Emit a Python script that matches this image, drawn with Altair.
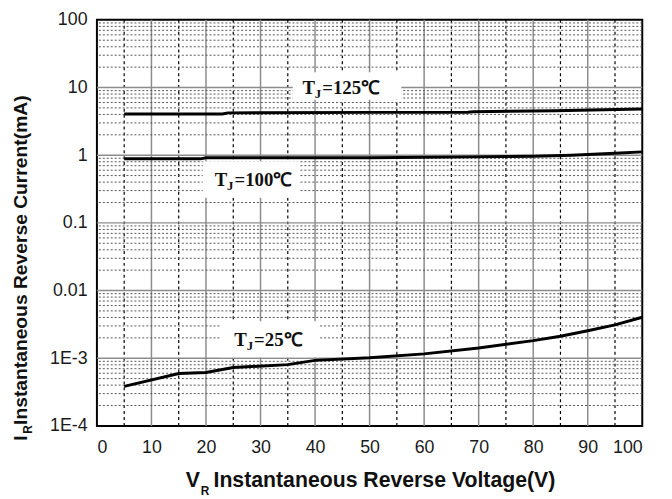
import json
import altair as alt
import pandas as pd

# ---- data ----
voltage_125 = [5, 23, 24, 51, 68, 69, 84, 93, 100]
current_125 = [4.06, 4.06, 4.22, 4.29, 4.30, 4.39, 4.54, 4.70, 4.80]

voltage_100 = [5, 19, 20, 50, 69, 80, 87, 96, 100]
current_100 = [0.883, 0.883, 0.914, 0.92, 0.944, 0.966, 1.0, 1.08, 1.12]

voltage_25 = [5, 15, 20, 25, 35, 40, 50, 60, 70, 80, 85, 90, 95, 100]
current_25 = [3.84e-4, 5.94e-4, 6.14e-4, 7.27e-4, 8.04e-4, 9.29e-4, 1.016e-3,
              1.16e-3, 1.42e-3, 1.82e-3, 2.11e-3, 2.55e-3, 3.11e-3, 4.03e-3]

x_ticks = [0, 10, 20, 30, 40, 50, 60, 70, 80, 90, 100]
x_major_grid = [10, 20, 30, 40, 50, 60, 70, 80, 90]
x_minor_grid = [5, 15, 25, 35, 45, 55, 65, 75, 85, 95]

y_ticks = [1e-4, 1e-3, 1e-2, 1e-1, 1, 10, 100]
y_tick_labels = ["1E-4", "1E-3", "0.01", "0.1", "1", "10", "100"]
y_major_grid = [1e-3, 1e-2, 1e-1, 1, 10]
y_minor_grid = [m * d for d in [1e-4, 1e-3, 1e-2, 1e-1, 1, 10] for m in range(2, 10)]

label_x = [37.7, 21.6, 25.2]
label_y = [8.03, 0.352, 1.52e-3]
label_text = ["=125℃", "=100℃", "=25℃"]

box_x1 = [35.9, 19.4, 22.6]
box_x2 = [55.8, 37.1, 40.8]
box_y1 = [6.6, 0.235, 1.03e-3]
box_y2 = [16.8, 0.817, 3.52e-3]

x_title = "Instantaneous Reverse Voltage(V)"
y_title = "Instantaneous Reverse Current(mA)"

# ---- tables ----
curves = pd.concat([
    pd.DataFrame({"v": voltage_125, "i": current_125, "s": "125"}),
    pd.DataFrame({"v": voltage_100, "i": current_100, "s": "100"}),
    pd.DataFrame({"v": voltage_25, "i": current_25, "s": "25"}),
])
labels = pd.DataFrame({"x": label_x, "y": label_y, "t": label_text})
boxes = pd.DataFrame({"x1": box_x1, "x2": box_x2, "y1": box_y1, "y2": box_y2})

W, H = 552, 411
xscale = alt.Scale(domain=[0, 100], nice=False, zero=False)
yscale = alt.Scale(type="log", domain=[1e-4, 100], nice=False)

label_expr = json.dumps(y_tick_labels) + "[round(log(datum.value)/LN10) + 4]"

x_axis = alt.Axis(values=x_ticks, title=None, grid=False, ticks=False, domain=False,
                  labelFont="Liberation Sans", labelFontSize=18, labelColor="#1a1a1a",
                  labelPadding=13)
y_axis = alt.Axis(values=y_ticks, title=None, grid=False, ticks=False, domain=False,
                  labelFont="Liberation Sans", labelFontSize=18, labelColor="#1a1a1a",
                  labelPadding=10, labelExpr=label_expr)

vmaj = alt.Chart(pd.DataFrame({"x": x_major_grid})).mark_rule(
    color="#8c8c8c", strokeWidth=1.5).encode(x=alt.X("x:Q", scale=xscale, axis=x_axis))
vmin = alt.Chart(pd.DataFrame({"xm": x_minor_grid})).mark_rule(
    color="#000000", strokeWidth=1.2, strokeDash=[3, 3], strokeCap="butt").encode(
    x=alt.X("xm:Q", scale=xscale), y=alt.value(0), y2=alt.value(H))
hmin = alt.Chart(pd.DataFrame({"y": y_minor_grid})).mark_rule(
    color="#555555", strokeWidth=1, strokeDash=[2, 2]).encode(
    y=alt.Y("y:Q", scale=yscale, axis=y_axis))
hmaj = alt.Chart(pd.DataFrame({"y": y_major_grid})).mark_rule(
    color="#8c8c8c", strokeWidth=1.5).encode(y=alt.Y("y:Q", scale=yscale))

box_layer = alt.Chart(boxes).mark_rect(color="white").encode(
    x=alt.X("x1:Q", scale=xscale), x2="x2:Q",
    y=alt.Y("y1:Q", scale=yscale), y2="y2:Q")

lines = alt.Chart(curves).mark_line(color="black", strokeWidth=3).encode(
    x=alt.X("v:Q", scale=xscale), y=alt.Y("i:Q", scale=yscale), detail="s:N")

serif = dict(font="Liberation Serif", fontWeight="bold", align="left", baseline="alphabetic",
             color="#111111")
t_mark = alt.Chart(labels).mark_text(text="T", fontSize=19, **serif).encode(
    x=alt.X("x:Q", scale=xscale), y=alt.Y("y:Q", scale=yscale))
j_mark = alt.Chart(labels).mark_text(text="J", fontSize=13, dx=12.5, dy=4, **serif).encode(
    x=alt.X("x:Q", scale=xscale), y=alt.Y("y:Q", scale=yscale))
v_mark = alt.Chart(labels).mark_text(fontSize=19, dx=20, **serif).encode(
    x=alt.X("x:Q", scale=xscale), y=alt.Y("y:Q", scale=yscale), text="t:N")

one = pd.DataFrame({"a": [0]})
sans = dict(font="Liberation Sans", fontWeight="bold", baseline="alphabetic",
            align="left", color="#111111")
xt1 = alt.Chart(one).mark_text(text="V", fontSize=21.5, **sans).encode(
    x=alt.value(90), y=alt.value(473))
xt2 = alt.Chart(one).mark_text(text="R", fontSize=12, **sans).encode(
    x=alt.value(105), y=alt.value(481))
xt3 = alt.Chart(one).mark_text(text=x_title, fontSize=21.5, **sans).encode(
    x=alt.value(118), y=alt.value(473))
yt1 = alt.Chart(one).mark_text(text="I", fontSize=19.5, angle=270, **sans).encode(
    x=alt.value(-71), y=alt.value(426))
yt2 = alt.Chart(one).mark_text(text="R", fontSize=12, angle=270, **sans).encode(
    x=alt.value(-66), y=alt.value(419))
yt3 = alt.Chart(one).mark_text(text=y_title, fontSize=19.5, angle=270, **sans).encode(
    x=alt.value(-71), y=alt.value(410))

chart = alt.layer(
    vmaj, vmin, hmin, hmaj, box_layer, lines, t_mark, j_mark, v_mark,
    xt1, xt2, xt3, yt1, yt2, yt3
).properties(
    width=W, height=H,
    autosize=alt.AutoSizeParams(type="none"),
    padding={"left": 90, "top": 9, "right": 22, "bottom": 70},
    background="white",
).configure_view(stroke="black", strokeWidth=2)

chart.save("out.html", embed_options={"renderer": "svg", "actions": False})
